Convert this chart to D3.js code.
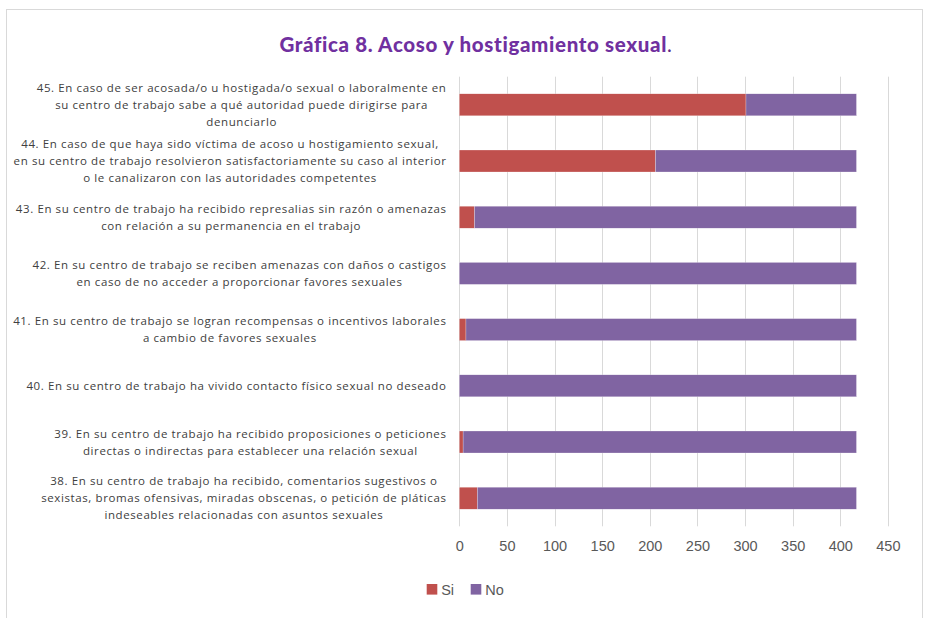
<!DOCTYPE html>
<html>
<head>
<meta charset="utf-8">
<script src="https://cdn.jsdelivr.net/npm/d3@7/dist/d3.min.js"></script>
<style>
  html, body { margin: 0; padding: 0; background: #fff; }
  svg { display: block; }
</style>
</head>
<body>
<svg id="chart" width="926" height="618"></svg>
<script>
// ---- Data ----
const categories = [
  ["45. En caso de ser acosada/o u hostigada/o sexual o laboralmente en",
   "su centro de trabajo sabe a qué autoridad puede dirigirse para",
   "denunciarlo"],
  ["44. En caso de que haya sido víctima de acoso u hostigamiento sexual,",
   "en su centro de trabajo resolvieron satisfactoriamente su caso al interior",
   "o le canalizaron con las autoridades competentes"],
  ["43. En su centro de trabajo ha recibido represalias sin razón o amenazas",
   "con relación a su permanencia en el trabajo"],
  ["42. En su centro de trabajo se reciben amenazas con daños o castigos",
   "en caso de no acceder a proporcionar favores sexuales"],
  ["41. En su centro de trabajo se logran recompensas o incentivos laborales",
   "a cambio de favores sexuales"],
  ["40. En su centro de trabajo ha vivido contacto físico sexual no deseado"],
  ["39. En su centro de trabajo ha recibido proposiciones o peticiones",
   "directas o indirectas para establecer una relación sexual"],
  ["38. En su centro de trabajo ha recibido, comentarios sugestivos o",
   "sexistas, bromas ofensivas, miradas obscenas, o petición de pláticas",
   "indeseables relacionadas con asuntos sexuales"]
];
const ids = ["45", "44", "43", "42", "41", "40", "39", "38"];
const siValues = [301, 206, 16, 0, 7, 0, 4, 19];
const noValues = [116, 211, 401, 417, 410, 417, 413, 398];
const seriesNames = ["Si", "No"];
const seriesColors = ["#C0504D", "#8064A2"];
const xTicks = [0, 50, 100, 150, 200, 250, 300, 350, 400, 450];
const titleMain = "Gráfica 8. Acoso y hostigamiento sexual";
const titleEnd = ".";

// ---- Layout ----
const svg = d3.select("#chart");
const plot = { left: 459.3, right: 887.9, top: 76.7, bottom: 526.3 };

// frame
svg.append("rect")
  .attr("x", 6.5).attr("y", 9.5)
  .attr("width", 916).attr("height", 640)
  .attr("fill", "#fff").attr("stroke", "#D9D9D9").attr("stroke-width", 1);

// title
const title = svg.append("text")
  .attr("x", 476).attr("y", 52)
  .attr("text-anchor", "middle")
  .style("font-family", "Lato, 'Open Sans', sans-serif")
  .style("font-size", "20.5px")
  .style("letter-spacing", "0.65px");
title.append("tspan").attr("font-weight", "900").attr("fill", "#7030A0").text(titleMain);
title.append("tspan").attr("font-weight", "normal").attr("fill", "#5B2A86").text(titleEnd);

const x = d3.scaleLinear().domain([0, 450]).range([plot.left, plot.right]);
const y = d3.scaleBand().domain(ids).range([plot.top, plot.bottom])
  .paddingInner(0.609).paddingOuter(0.3045);

// gridlines
svg.append("g").selectAll("line").data(xTicks).join("line")
  .attr("x1", d => Math.round(x(d)) + 0.5).attr("x2", d => Math.round(x(d)) + 0.5)
  .attr("y1", plot.top).attr("y2", plot.bottom)
  .attr("stroke", "#D9D9D9").attr("stroke-width", 1);

// x axis labels via d3 axis
const xAxis = d3.axisBottom(x).tickValues(xTicks).tickSize(0).tickPadding(0);
const gx = svg.append("g").attr("transform", `translate(0, ${541})`).call(xAxis);
gx.select(".domain").remove();
gx.selectAll("text")
  .attr("fill", "#595959")
  .style("font-family", "'Liberation Sans', Arial, sans-serif")
  .style("font-size", "14.5px");

// stacked bars
const rows = ids.map((id, i) => ({ id, Si: siValues[i], No: noValues[i] }));
const stack = d3.stack().keys(seriesNames)(rows);
const color = d3.scaleOrdinal().domain(seriesNames).range(seriesColors);

svg.append("g").selectAll("g").data(stack).join("g")
  .attr("fill", d => color(d.key))
  .selectAll("rect").data(d => d).join("rect")
  .attr("x", d => x(d[0]))
  .attr("y", d => y(d.data.id))
  .attr("width", d => Math.max(0, x(d[1]) - x(d[0])))
  .attr("height", y.bandwidth())
  .attr("stroke", "#fff").attr("stroke-width", 0.4).attr("stroke-opacity", 0.6);

// category labels
const labelRight = 446.5;
const lineH = 17;
const lg = svg.append("g")
  .style("font-family", "'Open Sans', 'Noto Sans', sans-serif")
  .style("font-size", "11.5px")
  .style("letter-spacing", "0.6px")
  .attr("fill", "#404040");

categories.forEach((lines, i) => {
  const cy = y(ids[i]) + y.bandwidth() / 2;
  const g = lg.append("g");
  const texts = lines.map((ln, j) => g.append("text")
    .attr("y", cy + (j - (lines.length - 1) / 2) * lineH)
    .attr("dy", "0.35em")
    .attr("text-anchor", "middle")
    .text(ln));
  const maxW = d3.max(texts, t => t.node().getComputedTextLength());
  texts.forEach(t => t.attr("x", labelRight - maxW / 2));
});

// legend
const legend = svg.append("g")
  .style("font-family", "'Liberation Sans', Arial, sans-serif")
  .style("font-size", "14.5px");
const legendX = [426.7, 470.7];
seriesNames.forEach((name, i) => {
  legend.append("rect")
    .attr("x", legendX[i]).attr("y", 584)
    .attr("width", 10.6).attr("height", 10.6)
    .attr("fill", seriesColors[i]);
  legend.append("text")
    .attr("x", legendX[i] + 14.5).attr("y", 589.5)
    .attr("dy", "0.35em")
    .attr("fill", "#595959")
    .text(name);
});
</script>
</body>
</html>
